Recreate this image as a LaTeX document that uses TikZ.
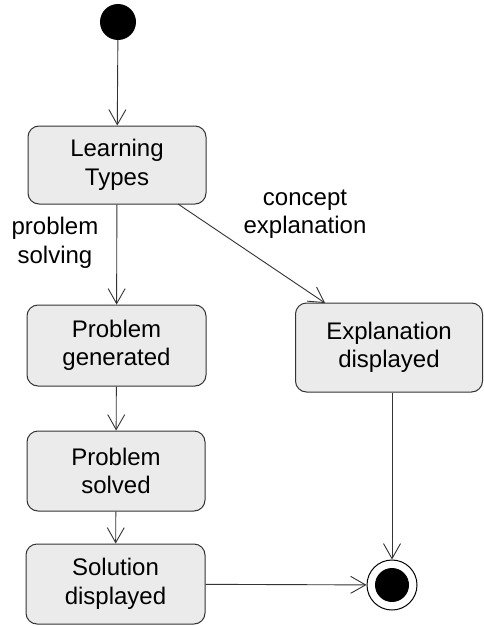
\documentclass[tikz,border=0pt]{standalone}
\usepackage{fontspec}
\setmainfont{Liberation Sans}
\usetikzlibrary{arrows.meta}
\begin{document}
\begin{tikzpicture}[x=1pt,y=-1pt,
  state/.style={draw=black!80, fill=black!8, rounded corners=11pt, line width=1pt, align=center,
    font=\fontsize{24}{28.5}\selectfont, inner sep=0pt},
  lbl/.style={align=center, font=\fontsize{24}{28.5}\selectfont, inner sep=0pt},
  flow/.style={draw=black!80, line width=0.9pt, -{Straight Barb[length=15pt,width=17pt,line width=0.9pt]}}]
\useasboundingbox (0,0) rectangle (483,626);
\fill[white] (0,0) rectangle (483,626);
\node[circle, fill=black, minimum size=36pt, inner sep=0pt] (start) at (118,22) {};
\node[state, minimum width=178pt, minimum height=78pt] (lt) at (117,165) {Learning\\Types};
\node[state, minimum width=179pt, minimum height=81pt] (pg) at (116.5,345.5) {Problem\\generated};
\node[state, minimum width=178pt, minimum height=80pt] (ps) at (116,471) {Problem\\solved};
\node[state, minimum width=179pt, minimum height=80pt] (sd) at (115.5,584) {Solution\\displayed};
\node[state, minimum width=187pt, minimum height=89pt] (ed) at (389,347.5) {Explanation\\displayed};
\node[circle, draw=black, line width=1pt, fill=white, minimum size=50pt, inner sep=0pt] (end) at (392,585) {};
\node[circle, fill=black, minimum size=34pt, inner sep=0pt] at (end) {};
\node[lbl] (l1) at (55,243) {problem\\solving};
\node[lbl] (l2) at (305,214) {concept\\explanation};
\draw[flow] (start) -- (lt);
\draw[flow] (lt) -- (pg);
\draw[flow] (pg) -- (ps);
\draw[flow] (ps) -- (sd);
\coordinate (a1) at (178,204);
\coordinate (a2) at (325,303);
\draw[flow] (a1) -- (a2);
\draw[flow] (ed.south -| end) -- (end);
\draw[flow] (sd) -- (end);
\end{tikzpicture}
\end{document}
